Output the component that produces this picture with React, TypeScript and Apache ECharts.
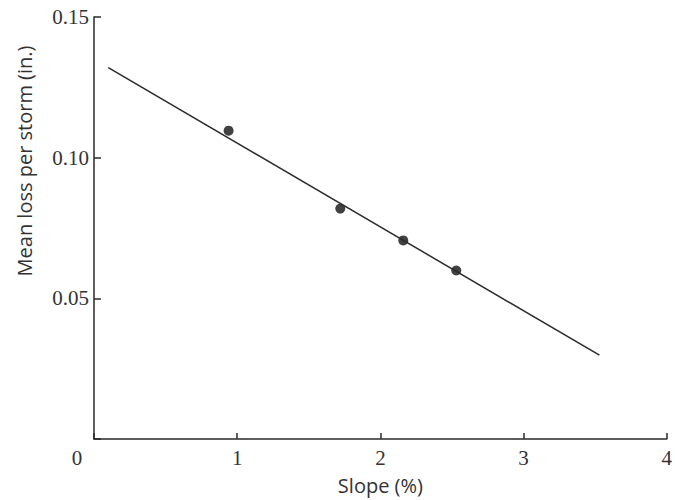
import React, { useEffect, useRef } from "react";
import * as echarts from "echarts";

const slopePoints = [0.94, 1.72, 2.16, 2.53];
const lossPoints = [0.1096, 0.0819, 0.0706, 0.0599];
const fitLineX = [0.1, 3.53];
const fitLineY = [0.132, 0.0298];
const xTicks = [0, 1, 2, 3, 4];
const yTicks = [0, 0.05, 0.1, 0.15];

const SERIF = "Liberation Serif";
const SANS = "Open Sans";
const INK = "#2a2a2a";

export default function App() {
  const ref = useRef<HTMLDivElement>(null);
  useEffect(() => {
    if (!ref.current) return;
    const chart = echarts.init(ref.current, undefined, { renderer: "svg" });
    chart.setOption({
      animation: false,
      backgroundColor: "#ffffff",
      grid: { left: 94, right: 6, top: 17, bottom: 60 },
      xAxis: {
        type: "value",
        min: xTicks[0],
        max: xTicks[xTicks.length - 1],
        interval: 1,
        name: "Slope (%)",
        nameLocation: "middle",
        nameGap: 36,
        nameTextStyle: { fontFamily: SANS, fontSize: 20, color: "#333" },
        axisLine: { show: true, lineStyle: { color: INK, width: 1.5 } },
        axisTick: { show: true, inside: true, length: 6, lineStyle: { color: INK, width: 1.5 } },
        axisLabel: {
          fontFamily: SERIF,
          fontSize: 21,
          color: "#333",
          margin: 8,
          showMaxLabel: true,
          formatter: (v: number) => (v === 0 ? "" : String(v)),
        },
        splitLine: { show: false },
      },
      yAxis: {
        type: "value",
        min: yTicks[0],
        max: yTicks[yTicks.length - 1],
        interval: 0.05,
        axisLine: { show: true, lineStyle: { color: INK, width: 1.5 } },
        axisTick: { show: true, inside: true, length: 7, lineStyle: { color: INK, width: 1.5 } },
        axisLabel: {
          fontFamily: SERIF,
          fontSize: 21,
          color: "#333",
          margin: 5,
          formatter: (v: number) => (v === 0 ? "" : v.toFixed(2)),
        },
        splitLine: { show: false },
      },
      graphic: [
        {
          type: "text",
          x: 77,
          y: 458,
          style: {
            text: "0",
            font: `21px "${SERIF}"`,
            fill: "#333",
            align: "center",
            verticalAlign: "middle",
          },
        },
        {
          type: "text",
          x: 24,
          y: 161,
          rotation: Math.PI / 2,
          style: {
            text: "Mean loss per storm (in.)",
            font: `20px "${SANS}"`,
            fill: "#333",
            align: "center",
            verticalAlign: "middle",
          },
        },
      ],
      series: [
        {
          type: "line",
          data: fitLineX.map((x, i) => [x, fitLineY[i]]),
          showSymbol: false,
          symbol: "none",
          lineStyle: { color: INK, width: 1.5 },
          silent: true,
        },
        {
          type: "scatter",
          data: slopePoints.map((x, i) => [x, lossPoints[i]]),
          symbol: "circle",
          symbolSize: 10,
          itemStyle: { color: "#111111" },
        },
      ],
    });
    return () => chart.dispose();
  }, []);
  return <div ref={ref} style={{ width: 675, height: 500, position: "absolute", left: 0, top: 0 }} />;
}
